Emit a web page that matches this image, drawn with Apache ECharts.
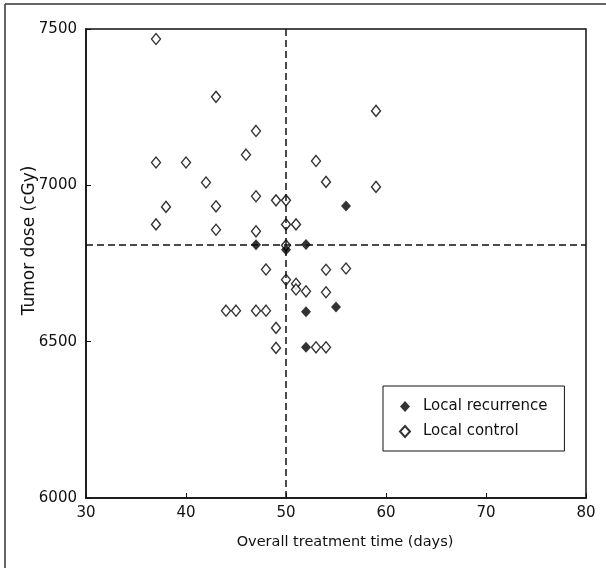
<!DOCTYPE html>
<html>
<head>
<meta charset="utf-8">
<script src="https://cdn.jsdelivr.net/npm/echarts@6/dist/echarts.min.js"></script>
<style>
  html, body { margin: 0; padding: 0; background: #fff; }
  #chart { width: 606px; height: 568px; }
</style>
</head>
<body>
<div id="chart"></div>
<script>
// points: [days, cGy]
const recurrence = [
  [47, 6810], [50, 6794], [52, 6811], [56, 6934], [52, 6596], [55, 6611], [52, 6482]
];
const control = [
  [37, 7468], [43, 7283], [47, 7174], [46, 7098], [37, 7073], [40, 7073], [42, 7009],
  [47, 6965], [49, 6952], [50, 6952], [59, 7238], [53, 7078], [54, 7011], [59, 6995],
  [38, 6931], [43, 6933], [37, 6875], [43, 6858], [47, 6853], [50, 6875], [51, 6875],
  [50, 6808], [48, 6731], [50, 6698], [51, 6685], [51, 6667], [44, 6599], [45, 6599],
  [47, 6599], [48, 6599], [49, 6544], [49, 6480], [54, 6730], [56, 6734], [52, 6661],
  [54, 6658], [53, 6482], [54, 6482]
];
const cutTime = 50;
const cutDose = 6810;

const font = 'DejaVu Sans';
const chart = echarts.init(document.getElementById('chart'), null, { renderer: 'canvas' });

chart.setOption({
  animation: false,
  backgroundColor: '#fff',
  textStyle: { fontFamily: font, color: '#111' },
  grid: {
    left: 86, top: 29, width: 500, height: 469,
    show: true, borderColor: '#111', borderWidth: 1.5
  },
  graphic: [
    { type: 'line', shape: { x1: 5, y1: 4, x2: 606, y2: 4 }, style: { stroke: '#333', lineWidth: 1.5 } },
    { type: 'line', shape: { x1: 5, y1: 4, x2: 5, y2: 568 }, style: { stroke: '#333', lineWidth: 1.5 } }
  ],
  legend: {
    orient: 'vertical',
    left: 383, top: 386,
    padding: [13, 17, 12, 16],
    itemWidth: 10, itemHeight: 11, itemGap: 10,
    borderColor: '#111', borderWidth: 1,
    textStyle: { fontFamily: font, fontSize: 15, color: '#111', padding: [0, 0, 0, 8] },
    data: ['Local recurrence', 'Local control']
  },
  xAxis: {
    type: 'value', min: 30, max: 80, interval: 10,
    name: 'Overall treatment time (days)',
    nameLocation: 'middle', nameGap: 37, nameMoveOverlap: false,
    nameTextStyle: { fontSize: 14.5, color: '#111', padding: [0, 0, 0, 18] },
    axisLine: { lineStyle: { color: '#111', width: 1.5 } },
    axisTick: { inside: true, length: 5, lineStyle: { color: '#111' } },
    axisLabel: { fontSize: 15, color: '#111', margin: 8 },
    splitLine: { show: false }
  },
  yAxis: {
    type: 'value', min: 6000, max: 7500, interval: 500,
    name: 'Tumor dose (cGy)',
    nameLocation: 'middle', nameGap: 48, nameMoveOverlap: false,
    nameTextStyle: { fontSize: 17, color: '#111', padding: [0, 0, 0, 46] },
    axisLine: { lineStyle: { color: '#111', width: 1.5 } },
    axisTick: { inside: true, length: 5, lineStyle: { color: '#111' } },
    axisLabel: { fontSize: 15, color: '#111', margin: 9, formatter: v => String(v) },
    splitLine: { show: false }
  },
  series: [
    {
      name: 'Local recurrence',
      type: 'scatter',
      symbol: 'diamond',
      symbolSize: [10, 11],
      itemStyle: { color: '#000' },
      data: recurrence,
      z: 3,
      markLine: {
        silent: true,
        symbol: 'none',
        label: { show: false },
        lineStyle: { color: '#111', width: 1.5, type: [7, 4] },
        data: [{ xAxis: cutTime }, { yAxis: cutDose }]
      }
    },
    {
      name: 'Local control',
      type: 'scatter',
      symbol: 'diamond',
      symbolSize: [9, 11],
      itemStyle: { color: '#fff', borderColor: '#000', borderWidth: 1.4 },
      data: control,
      z: 2
    }
  ]
});
</script>
</body>
</html>
